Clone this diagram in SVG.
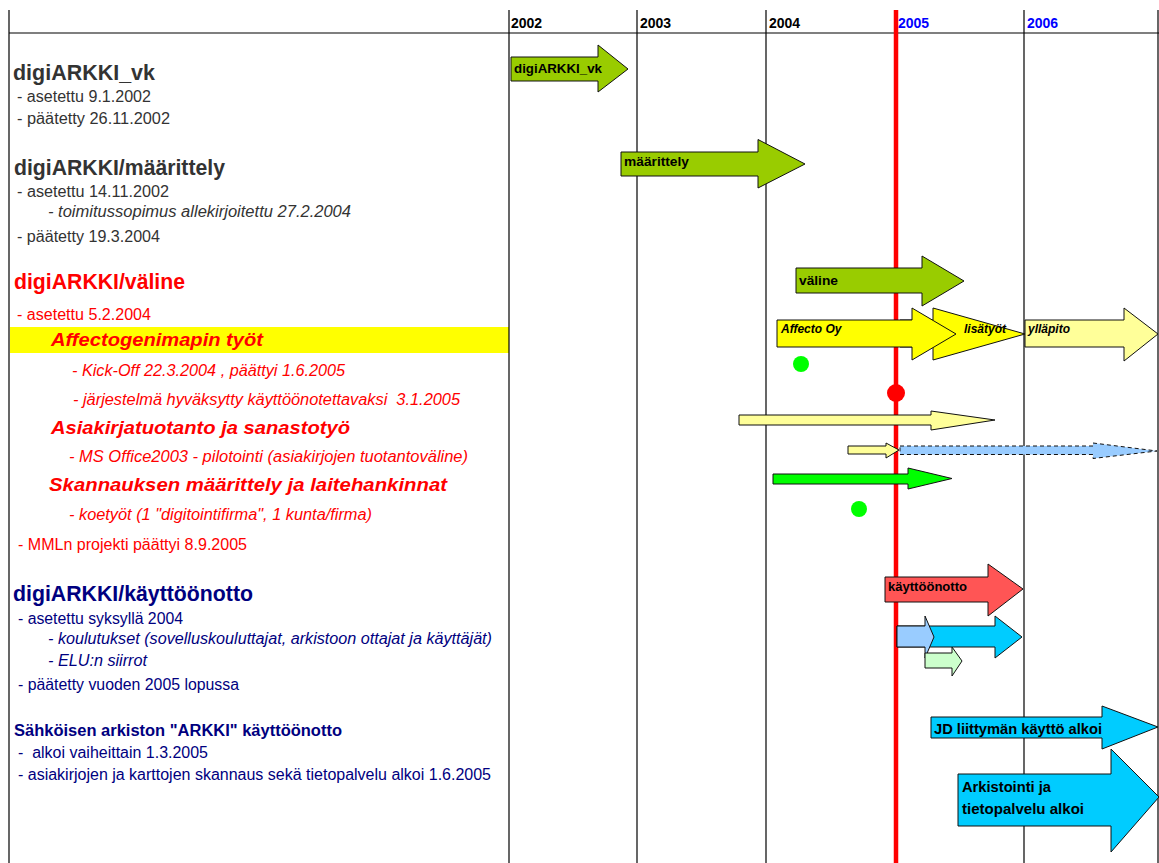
<svg xmlns="http://www.w3.org/2000/svg" width="1159" height="863" viewBox="0 0 1159 863">
<style>
text{font-family:"Liberation Sans",Arial,sans-serif}
.yr{font-size:14px;font-weight:bold;fill:#000}
.yb{fill:#0000FF}
.grid{stroke:#000;stroke-width:1.2;fill:none}
.ttl{font-size:22px;font-weight:bold}
.t{font-size:16px}
.it{font-size:16px;font-style:italic}
.bi{font-size:19px;font-weight:bold;font-style:italic}
.g{fill:#333333}
.r{fill:#FF0000}
.n{fill:#000080}
.arr{stroke:#111;stroke-width:1}
.al{font-size:13px;font-weight:bold;fill:#000}
.ali{font-size:12px;font-weight:bold;font-style:italic;fill:#000}
.alb{font-size:15px;font-weight:bold;fill:#000}
</style>
<rect width="1159" height="863" fill="#fff"/>
<g id="grid">
<rect x="10" y="327" width="499" height="26" fill="#FFFF00"/>
<line class="grid" x1="9" y1="10" x2="9" y2="863"/>
<line class="grid" x1="9" y1="33" x2="1159" y2="33" stroke-width="2"/>
<line class="grid" x1="509" y1="10" x2="509" y2="863"/>
<line class="grid" x1="637" y1="10" x2="637" y2="863"/>
<line class="grid" x1="766" y1="10" x2="766" y2="863"/>
<line class="grid" x1="1024" y1="10" x2="1024" y2="863"/>
<line class="grid" x1="1158" y1="10" x2="1158" y2="863"/>
<text class="yr" x="511" y="28">2002</text>
<text class="yr" x="640" y="28">2003</text>
<text class="yr" x="769" y="28">2004</text>
<text class="yr yb" x="898" y="28">2005</text>
<text class="yr yb" x="1027" y="28">2006</text>
</g>
<g id="labels">
<text class="ttl g" x="13" y="80" textLength="142" lengthAdjust="spacingAndGlyphs">digiARKKI_vk</text>
<text class="t g" x="17" y="102" textLength="134" lengthAdjust="spacingAndGlyphs">- asetettu 9.1.2002</text>
<text class="t g" x="17" y="124" textLength="153" lengthAdjust="spacingAndGlyphs">- päätetty 26.11.2002</text>
<text class="ttl g" x="14" y="175" textLength="211" lengthAdjust="spacingAndGlyphs">digiARKKI/määrittely</text>
<text class="t g" x="17" y="197" textLength="152" lengthAdjust="spacingAndGlyphs">- asetettu 14.11.2002</text>
<text class="it g" x="48" y="217" textLength="303" lengthAdjust="spacingAndGlyphs">- toimitussopimus allekirjoitettu 27.2.2004</text>
<text class="t g" x="17" y="242" textLength="143" lengthAdjust="spacingAndGlyphs">- päätetty 19.3.2004</text>
<text class="ttl r" x="14" y="289" textLength="171" lengthAdjust="spacingAndGlyphs">digiARKKI/väline</text>
<text class="t r" x="17" y="320" textLength="134" lengthAdjust="spacingAndGlyphs">- asetettu 5.2.2004</text>
<text class="bi r" x="51" y="346" textLength="212" lengthAdjust="spacingAndGlyphs">Affectogenimapin työt</text>
<text class="it r" x="72" y="376" textLength="273" lengthAdjust="spacingAndGlyphs">- Kick-Off 22.3.2004 , päättyi 1.6.2005</text>
<text class="it r" x="73" y="405" textLength="387" lengthAdjust="spacingAndGlyphs" xml:space="preserve">- järjestelmä hyväksytty käyttöönotettavaksi  3.1.2005</text>
<text class="bi r" x="51" y="434" textLength="299" lengthAdjust="spacingAndGlyphs">Asiakirjatuotanto ja sanastotyö</text>
<text class="it r" x="69" y="462" textLength="399" lengthAdjust="spacingAndGlyphs">- MS Office2003 - pilotointi (asiakirjojen tuotantoväline)</text>
<text class="bi r" x="49" y="491" textLength="398" lengthAdjust="spacingAndGlyphs">Skannauksen määrittely ja laitehankinnat</text>
<text class="it r" x="69" y="520" textLength="303" lengthAdjust="spacingAndGlyphs">- koetyöt (1 "digitointifirma", 1 kunta/firma)</text>
<text class="t r" x="18" y="550" textLength="229" lengthAdjust="spacingAndGlyphs">- MMLn projekti päättyi 8.9.2005</text>
<text class="ttl n" x="13" y="601" textLength="240" lengthAdjust="spacingAndGlyphs">digiARKKI/käyttöönotto</text>
<text class="t n" x="18" y="624" textLength="165" lengthAdjust="spacingAndGlyphs">- asetettu syksyllä 2004</text>
<text class="it n" x="48" y="644" textLength="444" lengthAdjust="spacingAndGlyphs">- koulutukset (sovelluskouluttajat, arkistoon ottajat ja käyttäjät)</text>
<text class="it n" x="48" y="666" textLength="99" lengthAdjust="spacingAndGlyphs">- ELU:n siirrot</text>
<text class="t n" x="18" y="690" textLength="221" lengthAdjust="spacingAndGlyphs">- päätetty vuoden 2005 lopussa</text>
<text class="n" x="14" y="736" font-size="16" font-weight="bold" textLength="328" lengthAdjust="spacingAndGlyphs">Sähköisen arkiston "ARKKI" käyttöönotto</text>
<text class="t n" x="18" y="758" textLength="190" lengthAdjust="spacingAndGlyphs" xml:space="preserve">-  alkoi vaiheittain 1.3.2005</text>
<text class="t n" x="18" y="780" textLength="473" lengthAdjust="spacingAndGlyphs">- asiakirjojen ja karttojen skannaus sekä tietopalvelu alkoi 1.6.2005</text>
</g>
<g id="today">
<line x1="896" y1="10" x2="896" y2="863" stroke="#FF0000" stroke-width="4.5"/>
</g>
<g id="connectors">
<g id="a-vk">
<polygon class="arr" fill="#99CC00" points="511,57 598,57 598,45 628,69 598,92 598,81 511,81"/>
<text class="al" x="514" y="73" textLength="88" lengthAdjust="spacingAndGlyphs">digiARKKI_vk</text>
</g>
<g id="a-maar">
<polygon class="arr" fill="#99CC00" points="621,152 758,152 758,139.5 805,164 758,188 758,176 621,176"/>
<text class="al" x="624" y="166" textLength="65" lengthAdjust="spacingAndGlyphs">määrittely</text>
</g>
<g id="a-valine">
<polygon class="arr" fill="#99CC00" points="796,268 922,268 922,256 964,281 922,306 922,293 796,293"/>
<text class="al" x="799" y="285" textLength="39" lengthAdjust="spacingAndGlyphs">väline</text>
</g>
<g id="a-lisatyot">
<polygon class="arr" fill="#FFFF00" points="900,320 933,320 933,308 1025,334 933,360 933,347 900,347"/>
<text class="ali" x="964" y="333">lisätyöt</text>
</g>
<g id="a-affecto">
<polygon class="arr" fill="#FFFF00" points="777,320 912,320 912,308 956,334 912,360 912,347 777,347"/>
<text class="ali" x="781" y="333">Affecto Oy</text>
</g>
<g id="a-yllapito">
<polygon class="arr" fill="#FFFF99" points="1025,320 1124,320 1124,308 1158,334 1124,361 1124,347 1025,347"/>
<text class="ali" x="1028" y="333">ylläpito</text>
</g>
<circle id="dot1" cx="801" cy="364" r="8" fill="#00FF00"/>
<circle id="dot-red" cx="896" cy="393" r="9" fill="#FF0000"/>
<g id="a-asiakirja">
<polygon class="arr" fill="#FFFF99" points="739,415 931,415 931,411 995,420 931,430 931,425 739,425"/>
</g>
<g id="a-office">
<polygon class="arr" fill="#FFFF99" points="848,446 886,446 886,443 899,450 886,458 886,454 848,454"/>
</g>
<g id="a-office-plan">
<polygon class="arr" fill="#99CCFF" stroke-dasharray="4,3" points="900,446 1093,446 1093,443 1157,451 1093,458.5 1093,454.5 900,454.5"/>
</g>
<g id="a-skannaus">
<polygon class="arr" fill="#00FF00" points="773,474 908,474 908,468 952,478.5 908,489 908,484 773,484"/>
</g>
<circle id="dot2" cx="859" cy="509" r="8" fill="#00FF00"/>
<g id="a-kayttoonotto">
<polygon class="arr" fill="#FF5555" points="885,577 988,577 988,564 1023,589 988,616 988,602 885,602"/>
<text class="al" x="888" y="591" textLength="79" lengthAdjust="spacingAndGlyphs">käyttöönotto</text>
</g>
<g id="a-koulutus">
<polygon class="arr" fill="#00CCFF" points="897,626 995,626 995,616 1022,637 995,658 995,647 897,647"/>
</g>
<g id="a-koulutus1">
<polygon class="arr" fill="#99CCFF" points="897,626 925,626 925,616 934,637 925,658 925,647 897,647"/>
</g>
<g id="a-elu">
<polygon class="arr" fill="#CCFFCC" points="925,653 952,653 952,647 962,661 952,676 952,668 925,668"/>
</g>
<g id="a-jd">
<polygon class="arr" fill="#00CCFF" points="931,717 1102,717 1102,706 1158,727 1102,749 1102,738 931,738"/>
<text class="alb" x="934" y="734" textLength="168" lengthAdjust="spacingAndGlyphs">JD liittymän käyttö alkoi</text>
</g>
<g id="a-arkistointi">
<polygon class="arr" fill="#00CCFF" points="958,774 1111,774 1111,749 1159,797 1111,852 1111,826 958,826"/>
<text class="alb" x="962" y="792" textLength="89" lengthAdjust="spacingAndGlyphs">Arkistointi ja</text>
<text class="alb" x="962" y="814" textLength="122" lengthAdjust="spacingAndGlyphs">tietopalvelu alkoi</text>
</g>
</g>
</svg>
